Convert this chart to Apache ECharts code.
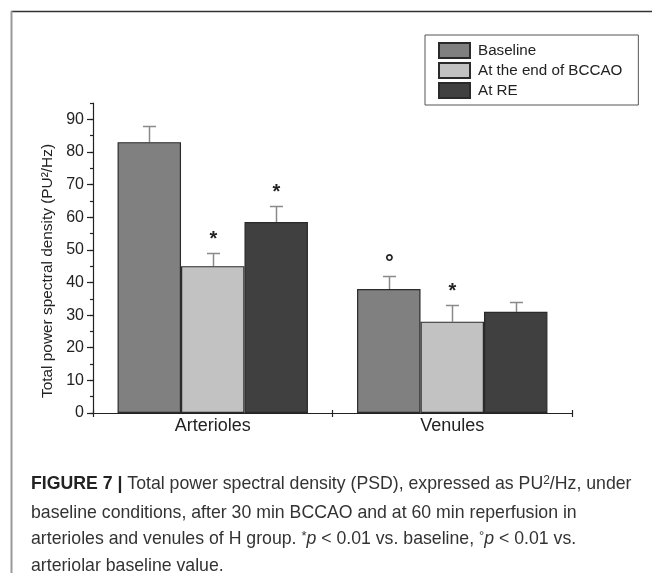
<!DOCTYPE html>
<html><head><meta charset="utf-8">
<script src="https://cdn.jsdelivr.net/npm/echarts@6/dist/echarts.min.js"></script>
<style>html,body{margin:0;padding:0;background:#fff}#c{width:652px;height:573px}</style>
</head><body><div id="c"></div>
<script>
// ---- data ----
const categories = ['Arterioles', 'Venules'];
const seriesNames = ['Baseline', 'At the end of BCCAO', 'At RE'];
const baselineValues = [83, 38];
const bccaoValues = [45, 28];
const reValues = [58.5, 31];
const baselineErrTop = [88, 42];
const bccaoErrTop = [49, 33];
const reErrTop = [63.5, 34];
const baselineMarks = ['', '°'];
const bccaoMarks = ['*', '*'];
const reMarks = ['*', ''];
const yTickValues = [0, 10, 20, 30, 40, 50, 60, 70, 80, 90];
const yMinorTickValues = [0, 5, 10, 15, 20, 25, 30, 35, 40, 45, 50, 55, 60, 65, 70, 75, 80, 85, 90, 95];

const FONT = '"Liberation Sans", Arial, Helvetica, sans-serif';
const BAR_FRAC = 0.265;
const colors = ['#808080', '#c2c2c2', '#404040'];

const values = [baselineValues, bccaoValues, reValues];
const errTops = [baselineErrTop, bccaoErrTop, reErrTop];
const marks = [baselineMarks, bccaoMarks, reMarks];

function errRender(g) {
  return function (params, api) {
    const i = params.dataIndex;
    const ci = api.value(0);
    const val = api.value(1);
    const top = api.value(2);
    const bw = api.size([1, 0])[0] * BAR_FRAC;
    const p0 = api.coord([ci, val]);
    const p1 = api.coord([ci, top]);
    const x = Math.round(p0[0] + (g - 1) * bw) + 0.5;
    const y1 = Math.round(p1[1]) + 0.5;
    const st = { stroke: '#8a8a8a', lineWidth: 1.5 };
    const children = [
      { type: 'line', shape: { x1: x, y1: p0[1], x2: x, y2: y1 }, style: st },
      { type: 'line', shape: { x1: x - 6.5, y1: y1, x2: x + 6.5, y2: y1 }, style: st }
    ];
    const m = marks[g][i];
    if (m) {
      const isStar = m === '*';
      children.push({
        type: 'text',
        style: {
          text: m, x: x, y: isStar ? y1 - 4.5 : y1 - 1.5,
          align: 'center', verticalAlign: 'bottom',
          fontFamily: FONT, fontSize: isStar ? 20 : 22, fontWeight: 'bold', fill: '#222'
        }
      });
    }
    return { type: 'group', children: children };
  };
}

const series = [];
for (let g = 0; g < 3; g++) {
  series.push({
    name: seriesNames[g], type: 'bar', data: values[g],
    barWidth: (BAR_FRAC * 100) + '%', barGap: '0%',
    itemStyle: { color: colors[g], borderColor: '#2a2a2a', borderWidth: 1.2 },
    z: 2
  });
}
for (let g = 0; g < 3; g++) {
  series.push({
    type: 'custom', name: 'err' + g, renderItem: errRender(g),
    data: categories.map((c, i) => [i, values[g][i], errTops[g][i]]),
    z: 1, silent: true
  });
}

const CAP = 17.7;
const chart = echarts.init(document.getElementById('c'), null, { renderer: 'canvas' });
chart.setOption({
  animation: false,
  backgroundColor: '#fff',
  grid: { left: 93, right: 80, top: 103, bottom: 160 },
  legend: {
    data: seriesNames, orient: 'vertical', left: 425, top: 35,
    padding: [7, 16, 6, 13], itemGap: 3, itemWidth: 31, itemHeight: 15,
    icon: 'rect', borderColor: '#555', borderWidth: 1,
    textStyle: { fontFamily: FONT, fontSize: 15.2, lineHeight: 15, color: '#222', padding: [0, 0, 0, 3] }
  },
  xAxis: [{
    type: 'category', data: categories, boundaryGap: true,
    axisLine: { lineStyle: { color: '#222', width: 1.2 } },
    axisTick: { show: true, length: 4, lineStyle: { color: '#222', width: 1.2 } },
    axisLabel: { fontFamily: FONT, fontSize: 18, color: '#222', margin: 4 }
  }, {
    type: 'category', data: categories, boundaryGap: true, position: 'bottom',
    axisLine: { show: false },
    axisTick: { show: true, inside: true, length: 3, lineStyle: { color: '#222', width: 1.2 } },
    axisLabel: { show: false }
  }],
  yAxis: [{
    type: 'value', min: 0, max: 95, interval: 5,
    name: 'Total power spectral density (PU²/Hz)', nameLocation: 'middle', nameGap: 30,
    nameTextStyle: { fontFamily: FONT, fontSize: 15.4, color: '#222', padding: [0, 26, 0, 0] },
    axisLine: { show: true, lineStyle: { color: '#222', width: 1.2 } },
    axisTick: { show: true, length: 6, customValues: yTickValues, lineStyle: { color: '#222', width: 1.2 } },
    axisLabel: { customValues: yTickValues, fontFamily: FONT, fontSize: 16, color: '#222', margin: 9 },
    splitLine: { show: false }
  }, {
    type: 'value', min: 0, max: 95, interval: 5, position: 'left',
    axisLine: { show: false },
    axisTick: { show: true, length: 3, customValues: yMinorTickValues, lineStyle: { color: '#222', width: 1.2 } },
    axisLabel: { show: false },
    splitLine: { show: false }
  }],
  series: series,
  graphic: [
    { type: 'line', shape: { x1: 11, y1: 11.5, x2: 652, y2: 11.5 }, style: { stroke: '#333', lineWidth: 1.5 } },
    { type: 'line', shape: { x1: 11.5, y1: 11, x2: 11.5, y2: 573 }, style: { stroke: '#999', lineWidth: 2 } },
    { type: 'text', left: 31, top: 475, style: {
      text: '{b|FIGURE 7 |} Total power spectral density (PSD), expressed as PU{s|2}/Hz, under',
      fontFamily: FONT, fontSize: CAP, fill: '#333',
      rich: { b: { fontWeight: 'bold', fontSize: CAP, fontFamily: FONT, fill: '#222' },
              s: { fontSize: 12, fontFamily: FONT, fill: '#333', padding: [0, 0, 7, 0] } }
    } },
    { type: 'text', left: 31, top: 504, style: {
      text: 'baseline conditions, after 30 min BCCAO and at 60 min reperfusion in',
      fontFamily: FONT, fontSize: CAP, fill: '#333' } },
    { type: 'text', left: 31, top: 530, style: {
      text: 'arterioles and venules of H group. {s|*}{i|p} < 0.01 vs. baseline, {s|°}{i|p} < 0.01 vs.',
      fontFamily: FONT, fontSize: CAP, fill: '#333',
      rich: { i: { fontStyle: 'italic', fontSize: CAP, fontFamily: FONT, fill: '#333' },
              s: { fontSize: 13, fontFamily: FONT, fill: '#333', padding: [0, 0, 5, 0] } }
    } },
    { type: 'text', left: 31, top: 557, style: {
      text: 'arteriolar baseline value.',
      fontFamily: FONT, fontSize: CAP, fill: '#333' } }
  ]
});
</script>
</body></html>
